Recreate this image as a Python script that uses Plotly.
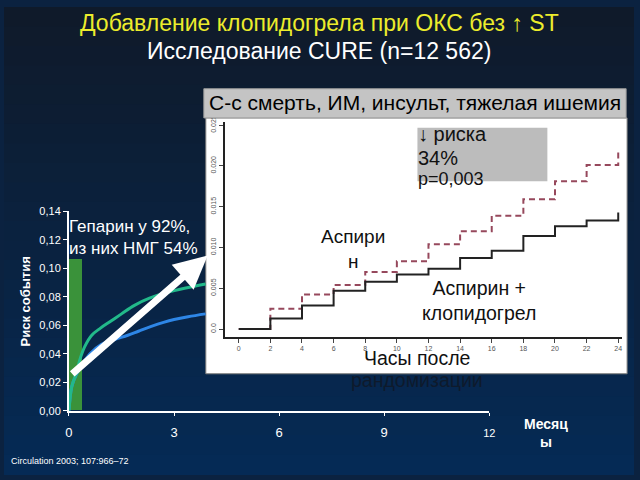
import plotly.graph_objects as go

W, H = 640, 480

# ---------------- data ----------------
# main chart (months, cumulative event risk)
green_months = [0, 0.08, 0.22, 0.3, 0.45, 0.65, 0.9, 1.2, 1.5, 1.87, 2.3, 2.8, 3.3, 3.9]
green_risk = [0, 0.017, 0.027, 0.035, 0.045, 0.053, 0.058, 0.063, 0.068, 0.074, 0.079, 0.083, 0.086, 0.089]
blue_months = [0, 0.08, 0.22, 0.35, 0.6, 0.93, 1.3, 1.68, 2.0, 2.33, 2.7, 3.0, 3.4, 3.9]
blue_risk = [0, 0.017, 0.026, 0.031, 0.040, 0.0466, 0.050, 0.053, 0.056, 0.059, 0.062, 0.064, 0.066, 0.068]
heparin_bar_x = [0.185]
heparin_bar_w = [0.37]
heparin_bar_h = [0.106]
main_yticks = [0, 0.02, 0.04, 0.06, 0.08, 0.10, 0.12, 0.14]
main_yticklabels = ["0,00", "0,02", "0,04", "0,06", "0,08", "0,10", "0,12", "0,14"]
main_xticks = [0, 3, 6, 9, 12]
main_xticklabels = ["0", "3", "6", "9", '<span style="font-size:11px">12</span>']

# inset (hours after randomisation)
hours = [0, 2, 4, 6, 8, 10, 12, 14, 16, 18, 20, 22, 24, 24]
aspirin = [0, 0.0025, 0.00425, 0.0054, 0.0070, 0.0083, 0.0104, 0.0120, 0.0139, 0.0159, 0.0181, 0.0201, 0.0201, 0.0217]
aspirin_clop = [0, 0.0013, 0.0029, 0.0047, 0.0058, 0.0067, 0.0074, 0.0087, 0.0096, 0.0114, 0.0126, 0.0133, 0.0133, 0.0143]
inset_xticks = list(range(0, 25, 2))
inset_yticks = [0, 0.005, 0.010, 0.015, 0.020, 0.025]
inset_yticklabels = ["0.0", "0.005", "0.010", "0.015", "0.020", "0.025"]

FONT = "Arial, Liberation Sans, sans-serif"


def px(x):
    return x / W


def py(y):
    return 1 - y / H


fig = go.Figure()

# main chart traces
fig.add_trace(go.Bar(x=heparin_bar_x, y=heparin_bar_h, width=heparin_bar_w,
                     marker=dict(color="#3a923a", line=dict(width=0)),
                     xaxis="x", yaxis="y", showlegend=False, hoverinfo="skip"))
fig.add_trace(go.Scatter(x=blue_months, y=blue_risk, mode="lines",
                         line=dict(color="#2e86e6", width=3, shape="spline"),
                         xaxis="x", yaxis="y", showlegend=False))
fig.add_trace(go.Scatter(x=green_months, y=green_risk, mode="lines",
                         line=dict(color="#22b98a", width=3, shape="spline"),
                         xaxis="x", yaxis="y", showlegend=False))

# inset traces
fig.add_trace(go.Scatter(x=hours, y=aspirin, mode="lines",
                         line=dict(color="#96485c", width=2, dash="6px,4px", shape="hv"),
                         xaxis="x2", yaxis="y2", showlegend=False))
fig.add_trace(go.Scatter(x=hours, y=aspirin_clop, mode="lines",
                         line=dict(color="#222222", width=2, shape="hv"),
                         xaxis="x2", yaxis="y2", showlegend=False))

shapes = []
# background gradient bands
n = 24
top = (15, 26, 42)
bot = (5, 42, 85)
for i in range(n):
    t = i / (n - 1)
    c = tuple(int(round(top[k] + (bot[k] - top[k]) * t)) for k in range(3))
    shapes.append(dict(type="rect", xref="paper", yref="paper", x0=0, x1=1,
                       y0=1 - (i + 1) / n - 0.002, y1=1 - i / n,
                       fillcolor="rgb(%d,%d,%d)" % c, line=dict(width=0), layer="below"))
# inset white panel
shapes.append(dict(type="rect", xref="paper", yref="paper", x0=px(205), x1=px(633),
                   y0=py(377), y1=py(114), fillcolor="white",
                   line=dict(color="#7a7a7a", width=1), layer="below"))
# inset header gray box
shapes.append(dict(type="rect", xref="paper", yref="paper", x0=px(203), x1=px(632),
                   y0=py(114), y1=py(84), fillcolor="#c4c4c4",
                   line=dict(color="#9a9a9a", width=1), layer="above"))
# risk box
shapes.append(dict(type="rect", xref="paper", yref="paper", x0=px(420), x1=px(552),
                   y0=py(179), y1=py(124), fillcolor="#bcbcbc",
                   line=dict(width=0), layer="above"))


def txt(text, x, y, size, color, xanchor="center", align="center", **kw):
    d = dict(text=text, x=px(x), y=py(y), xref="paper", yref="paper", showarrow=False,
             font=dict(family=FONT, size=size, color=color), xanchor=xanchor,
             yanchor="middle", align=align)
    d.update(kw)
    return d


annotations = [
    txt("Добавление клопидогрела при ОКС без ↑ ST", 320, 16, 23, "#ecec2c"),
    txt("Исследование CURE (n=12 562)", 320, 45, 23, "white"),
    txt("С-с смерть, ИМ, инсульт, тяжелая ишемия", 418, 98, 21, "black"),
    txt("↓ риска", 419, 131, 20, "#111111", xanchor="left", align="left"),
    txt("34%", 419, 155, 20, "#111111", xanchor="left", align="left"),
    txt("p=0,003", 419, 177, 18, "#111111", xanchor="left", align="left"),
    txt("Аспири<br>н", 355, 249, 19, "#111111"),
    txt("Аспирин +<br>клопидогрел", 483, 302, 19.5, "#111111"),
    txt("Часы после", 420, 361, 19.5, "#111111"),
    txt("рандомизации", 420, 383, 19.5, "#0e1a2c"),
    txt("Гепарин у 92%,<br>из них НМГ 54%", 64, 237, 17, "white", xanchor="left", align="left"),
    txt("<b>Риск события</b>", 22, 303, 13, "white", textangle=-90),
    txt("<b>Месяц<br>ы</b>", 551, 438, 14, "white"),
    txt("Circulation 2003; 107:966–72", 5, 467, 9, "white", xanchor="left", align="left"),
    # white arrow
    dict(x=3.96, y=0.109, ax=0.05, ay=0.025, xref="x", yref="y", axref="x", ayref="y",
         text="", showarrow=True, arrowhead=2, arrowsize=0.95, arrowwidth=7, arrowcolor="white"),
]

fig.update_layout(
    width=W, height=H, margin=dict(l=0, r=0, t=0, b=0),
    paper_bgcolor="#0b2240", plot_bgcolor="rgba(0,0,0,0)",
    shapes=shapes, annotations=annotations, bargap=0,
    xaxis=dict(domain=[px(66), px(493)], range=[0, 12], showgrid=False, zeroline=False,
               showline=True, linecolor="white", linewidth=2, ticks="outside", ticklen=3,
               tickcolor="white", tickvals=main_xticks, ticktext=main_xticklabels,
               tickfont=dict(family=FONT, size=13, color="white"), ticklabelstandoff=6, anchor="y"),
    yaxis=dict(domain=[py(415), py(210)], range=[0, 0.14], showgrid=False, zeroline=False,
               showline=True, linecolor="white", linewidth=2, ticks="outside", ticklen=4,
               tickcolor="white", tickvals=main_yticks, ticktext=main_yticklabels,
               tickfont=dict(family=FONT, size=11, color="white"), anchor="x"),
    xaxis2=dict(domain=[px(224), px(628)], range=[-0.9, 24.25], showgrid=False, zeroline=False,
                showline=True, linecolor="#222", linewidth=2, ticks="outside", ticklen=4,
                tickcolor="#444", tickvals=inset_xticks,
                tickfont=dict(family=FONT, size=7, color="#555"), anchor="y2"),
    yaxis2=dict(domain=[py(339), py(118)], range=[-0.00095, 0.0254], showgrid=False, zeroline=False,
                showline=True, linecolor="#222", linewidth=2, ticks="outside", ticklen=4,
                tickcolor="#444", tickvals=inset_yticks, ticktext=inset_yticklabels, tickangle=-90,
                tickfont=dict(family=FONT, size=7, color="#555"), anchor="x2"),
)

fig.write_html("out.html")
